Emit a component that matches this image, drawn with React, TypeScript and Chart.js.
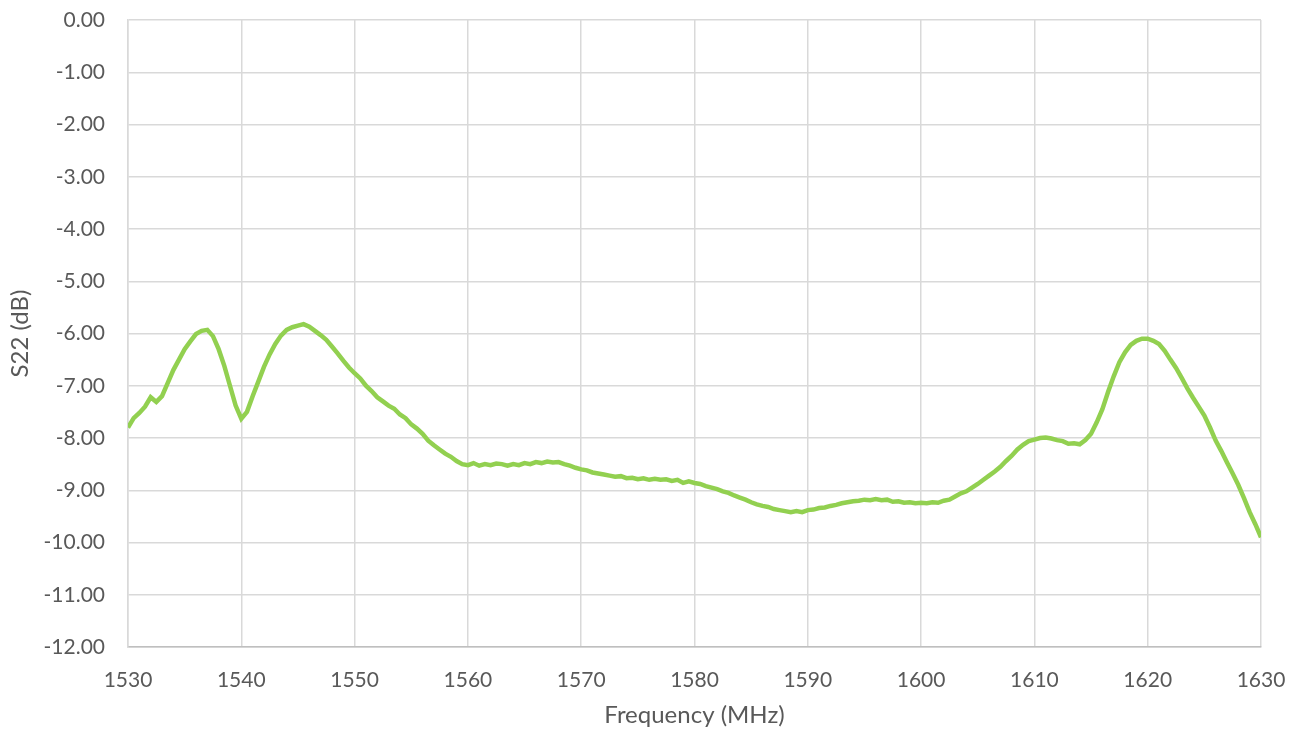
import React, { useEffect, useRef } from "react";
import { Chart, registerables } from "chart.js";

Chart.register(...registerables);

const FREQ_START = 1530;
const FREQ_STEP = 0.5;

// S22 (dB) sampled every 0.5 MHz from 1530 to 1630 MHz
const s22Values: number[] = [
  -7.80, -7.62, -7.52, -7.40, -7.22, -7.31, -7.20, -6.95, -6.70, -6.50,
  -6.30, -6.15, -6.01, -5.95, -5.93, -6.05, -6.30, -6.62, -7.00, -7.38,
  -7.63, -7.50, -7.20, -6.92, -6.64, -6.40, -6.20, -6.04, -5.93, -5.88,
  -5.85, -5.82, -5.87, -5.95, -6.03, -6.12, -6.25, -6.38, -6.52, -6.65,
  -6.76, -6.86, -7.00, -7.10, -7.22, -7.30, -7.38, -7.44, -7.55, -7.62,
  -7.74, -7.82, -7.92, -8.05, -8.14, -8.22, -8.30, -8.36, -8.44, -8.50,
  -8.52, -8.48, -8.53, -8.50, -8.52, -8.49, -8.50, -8.53, -8.50, -8.52,
  -8.48, -8.50, -8.46, -8.48, -8.45, -8.47, -8.46, -8.50, -8.53, -8.57,
  -8.60, -8.62, -8.66, -8.68, -8.70, -8.72, -8.74, -8.73, -8.77, -8.76,
  -8.79, -8.77, -8.80, -8.78, -8.80, -8.79, -8.82, -8.80, -8.86, -8.83,
  -8.86, -8.88, -8.92, -8.95, -8.98, -9.02, -9.05, -9.10, -9.14, -9.18,
  -9.23, -9.27, -9.30, -9.32, -9.36, -9.38, -9.40, -9.42, -9.40, -9.42,
  -9.38, -9.37, -9.34, -9.33, -9.30, -9.28, -9.25, -9.23, -9.21, -9.20,
  -9.18, -9.19, -9.17, -9.19, -9.18, -9.22, -9.21, -9.24, -9.23, -9.25,
  -9.24, -9.25, -9.23, -9.24, -9.20, -9.18, -9.12, -9.06, -9.02, -8.95,
  -8.88, -8.80, -8.72, -8.64, -8.55, -8.44, -8.34, -8.22, -8.13, -8.06,
  -8.03, -8.00, -7.99, -8.01, -8.04, -8.06, -8.11, -8.10, -8.12, -8.04,
  -7.92, -7.70, -7.45, -7.12, -6.82, -6.55, -6.36, -6.22, -6.14, -6.10,
  -6.10, -6.14, -6.20, -6.33, -6.50, -6.66, -6.85, -7.05, -7.23, -7.40,
  -7.57, -7.80, -8.05, -8.25, -8.47, -8.68, -8.90, -9.15, -9.42, -9.65,
  -9.90,
];

const X_MIN = 1530;
const X_MAX = 1630;
const X_STEP = 10;
const Y_MIN = -12;
const Y_MAX = 0;
const Y_STEP = 1;

const X_TITLE = "Frequency (MHz)";
const Y_TITLE = "S22 (dB)";

const LINE_COLOR = "#92D050";
const TEXT_COLOR = "#595959";
const GRID_COLOR = "#D9D9D9";
const FONT_FAMILY = "Lato, 'Open Sans', sans-serif";

export default function App() {
  const canvasRef = useRef<HTMLCanvasElement | null>(null);

  useEffect(() => {
    if (!canvasRef.current) return;
    const points = s22Values.map((v, i) => ({ x: FREQ_START + i * FREQ_STEP, y: v }));
    const chart = new Chart(canvasRef.current, {
      type: "line",
      data: {
        datasets: [
          {
            data: points,
            borderColor: LINE_COLOR,
            borderWidth: 4.5,
            pointRadius: 0,
            tension: 0,
            fill: false,
          },
        ],
      },
      options: {
        animation: false,
        responsive: true,
        maintainAspectRatio: false,
        layout: { padding: { left: 0, top: 20, right: 38, bottom: 0 } },
        plugins: { legend: { display: false }, tooltip: { enabled: false } },
        scales: {
          x: {
            type: "linear",
            min: X_MIN,
            max: X_MAX,
            ticks: {
              stepSize: X_STEP,
              color: TEXT_COLOR,
              font: { family: FONT_FAMILY, size: 21 },
              padding: 21,
              maxRotation: 0,
              callback: (v: any) => String(v),
            },
            grid: { color: GRID_COLOR, lineWidth: 1.5, drawTicks: false },
            border: { color: "#BFBFBF", width: 1.5 },
            title: {
              display: true,
              text: X_TITLE,
              color: TEXT_COLOR,
              font: { family: FONT_FAMILY, size: 24 },
              padding: { top: 0, bottom: 3 },
            },
            afterFit: (scale: any) => {
              scale.height = 86;
              scale.paddingLeft = 0;
              scale.paddingRight = 0;
            },
          },
          y: {
            type: "linear",
            min: Y_MIN,
            max: Y_MAX,
            ticks: {
              stepSize: Y_STEP,
              color: TEXT_COLOR,
              font: { family: FONT_FAMILY, size: 21 },
              padding: 23,
              callback: (v: any) => Number(v).toFixed(2),
            },
            grid: { color: GRID_COLOR, lineWidth: 1.5, drawTicks: false },
            border: { color: GRID_COLOR, width: 1.5 },
            title: {
              display: true,
              text: Y_TITLE,
              color: TEXT_COLOR,
              font: { family: FONT_FAMILY, size: 24 },
              padding: { top: 6, bottom: 0 },
            },
            afterFit: (scale: any) => {
              scale.width = 128;
              scale.paddingTop = 0;
              scale.paddingBottom = 0;
            },
          },
        },
      },
    });
    return () => chart.destroy();
  }, []);

  return (
    <div style={{ position: "absolute", left: 0, top: 0, width: 1299, height: 733, background: "#fff" }}>
      <canvas ref={canvasRef} />
    </div>
  );
}
